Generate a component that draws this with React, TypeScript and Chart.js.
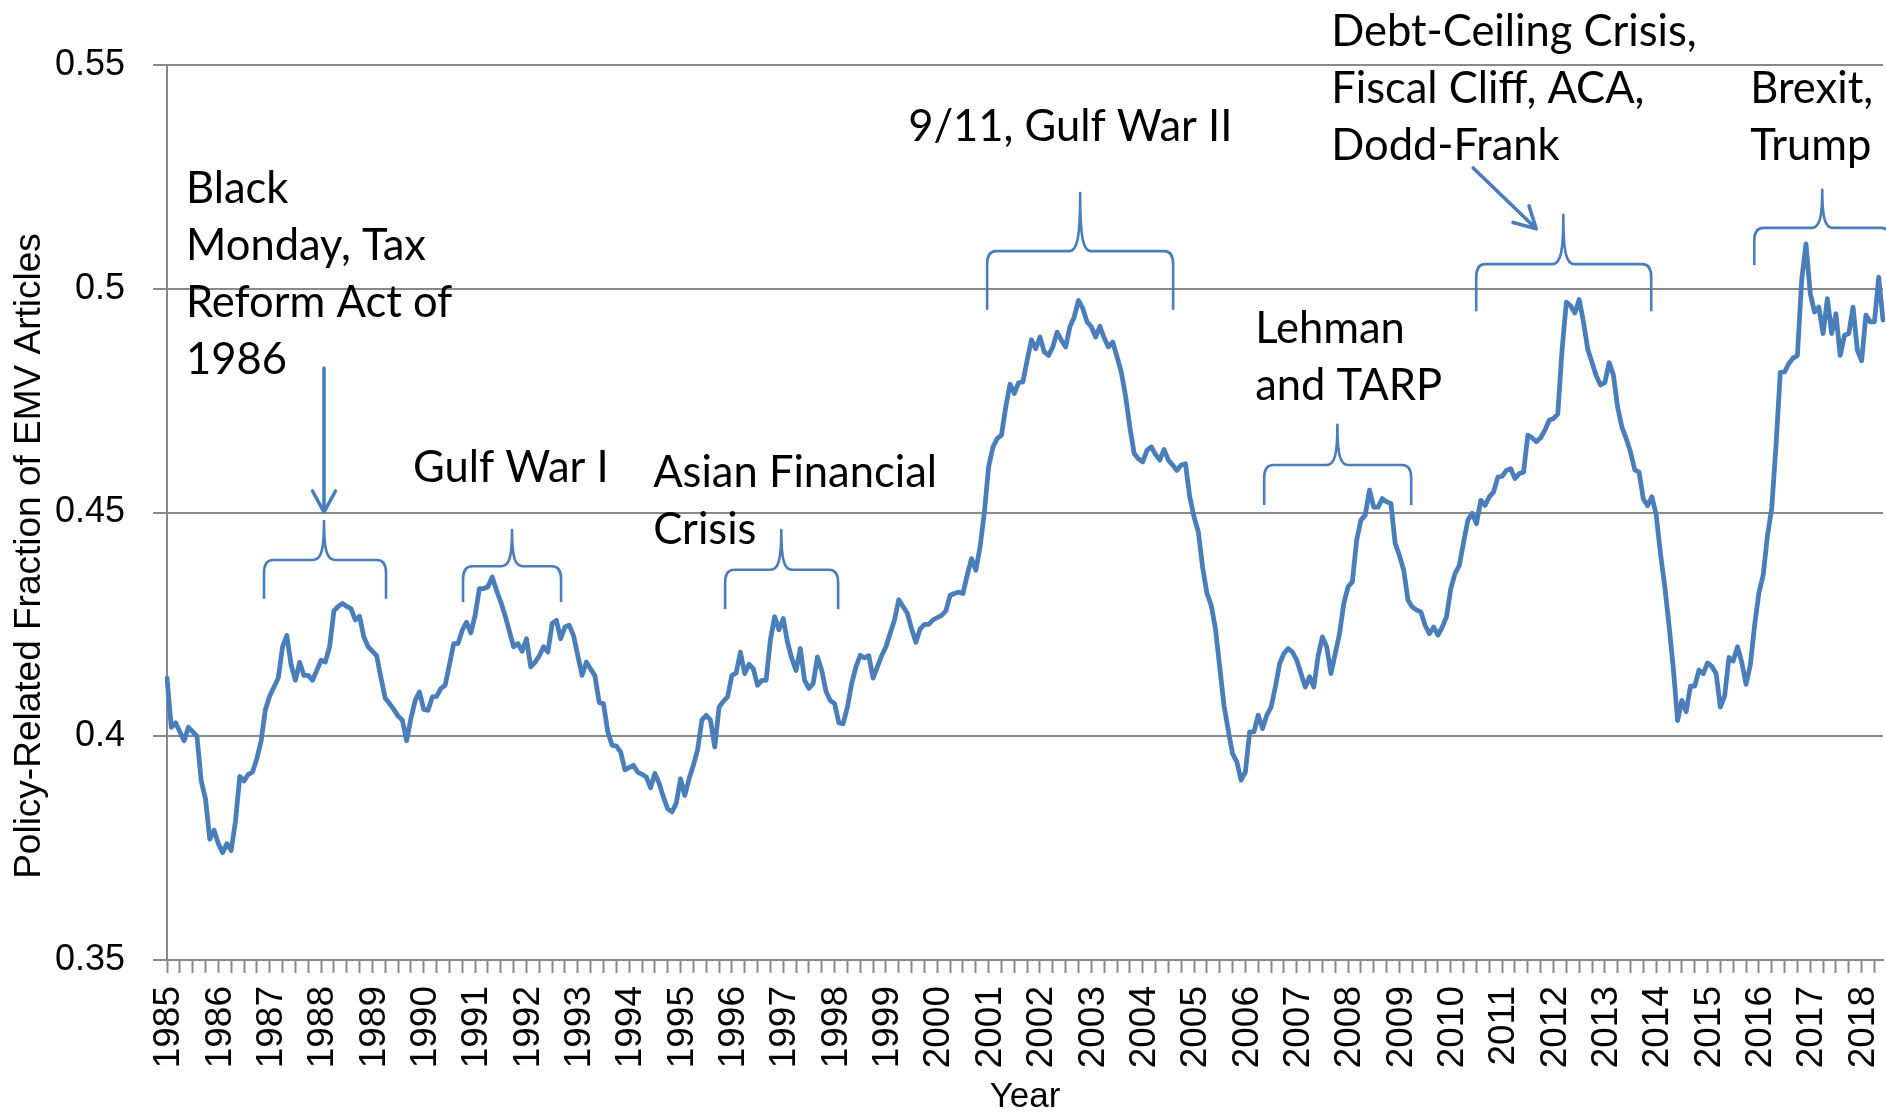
import React, { useEffect, useRef } from 'react';
import { Chart, registerables } from 'chart.js';

Chart.register(...registerables);

// ---------------- data ----------------
const yearLabels = [
  '1985', '1986', '1987', '1988', '1989', '1990', '1991', '1992', '1993', '1994',
  '1995', '1996', '1997', '1998', '1999', '2000', '2001', '2002', '2003', '2004',
  '2005', '2006', '2007', '2008', '2009', '2010', '2011', '2012', '2013', '2014',
  '2015', '2016', '2017', '2018',
];

// Monthly policy-related fraction of EMV articles, Jan 1985 - Jun 2018 (12 months per row)
const policyFraction = [
  0.413, 0.402, 0.403, 0.401, 0.399, 0.402, 0.401, 0.400, 0.390, 0.386, 0.377, 0.379,
  0.376, 0.374, 0.376, 0.3745, 0.381, 0.391, 0.390, 0.3915, 0.392, 0.395, 0.399, 0.406,
  0.409, 0.411, 0.413, 0.420, 0.4225, 0.416, 0.4125, 0.4165, 0.4136, 0.4136, 0.4125, 0.4147,
  0.417, 0.4166, 0.420, 0.428, 0.429, 0.4297, 0.429, 0.4285, 0.426, 0.4268, 0.4222, 0.420,
  0.419, 0.418, 0.413, 0.4085, 0.4073, 0.406, 0.4045, 0.4036, 0.399, 0.404, 0.408, 0.4099,
  0.406, 0.4058, 0.4088, 0.4089, 0.4107, 0.4114, 0.416, 0.4207, 0.4207, 0.4237, 0.4255, 0.4231,
  0.427, 0.433, 0.433, 0.4334, 0.4356, 0.4326, 0.430, 0.427, 0.4235, 0.420, 0.4207, 0.419,
  0.4218, 0.4155, 0.4165, 0.418, 0.420, 0.4188, 0.4252, 0.4259, 0.4218, 0.4244, 0.4248, 0.4225,
  0.418, 0.4136, 0.4166, 0.415, 0.4135, 0.4075, 0.4073, 0.401, 0.398, 0.3978, 0.3965, 0.3925,
  0.393, 0.3935, 0.392, 0.3915, 0.3909, 0.3885, 0.3917, 0.3895, 0.3864, 0.3838, 0.3831, 0.385,
  0.3905, 0.3868, 0.3905, 0.3935, 0.397, 0.4036, 0.4047, 0.4036, 0.3976, 0.4065, 0.4078, 0.4088,
  0.4136, 0.4141, 0.4188, 0.414, 0.4161, 0.4151, 0.4114, 0.4125, 0.4125, 0.4215, 0.4267, 0.4238,
  0.4263, 0.421, 0.4174, 0.4147, 0.4196, 0.4125, 0.4107, 0.4118, 0.4177, 0.4147, 0.410, 0.408,
  0.4073, 0.403, 0.4028, 0.4065, 0.4118, 0.4155, 0.4181, 0.4175, 0.418, 0.413, 0.4155, 0.418,
  0.420, 0.423, 0.426, 0.4305, 0.429, 0.4275, 0.424, 0.421, 0.424, 0.425, 0.425, 0.426,
  0.4265, 0.427, 0.428, 0.4315, 0.4319, 0.4322, 0.4319, 0.436, 0.4397, 0.4371, 0.4423, 0.450,
  0.4602, 0.4646, 0.4665, 0.4673, 0.4736, 0.4787, 0.4766, 0.479, 0.4792, 0.484, 0.4886, 0.4866,
  0.4892, 0.4859, 0.4851, 0.487, 0.4903, 0.4885, 0.487, 0.4915, 0.4937, 0.4974, 0.4956, 0.4926,
  0.4915, 0.4892, 0.4916, 0.489, 0.487, 0.4881, 0.4848, 0.4814, 0.476, 0.4691, 0.4632, 0.462,
  0.4613, 0.4639, 0.4647, 0.463, 0.4617, 0.4641, 0.4617, 0.4606, 0.4594, 0.4606, 0.4609, 0.4535,
  0.449, 0.4457, 0.4378, 0.432, 0.4293, 0.4241, 0.4155, 0.4069, 0.4013, 0.3961, 0.3943, 0.3902,
  0.392, 0.401, 0.401, 0.4047, 0.4017, 0.4047, 0.4065, 0.411, 0.4162, 0.4185, 0.4196, 0.4188,
  0.417, 0.414, 0.411, 0.4133, 0.411, 0.418, 0.4222, 0.42, 0.414, 0.4185, 0.4229, 0.4297,
  0.4334, 0.4345, 0.4438, 0.4483, 0.4494, 0.455, 0.4512, 0.4512, 0.4531, 0.4524, 0.452, 0.4431,
  0.4404, 0.4371, 0.4304, 0.4289, 0.4282, 0.4278, 0.4248, 0.4229, 0.4244, 0.4226, 0.4244, 0.4267,
  0.433, 0.4364, 0.4382, 0.4434, 0.4483, 0.4498, 0.4475, 0.4527, 0.4516, 0.4535, 0.4546, 0.4579,
  0.4581, 0.4594, 0.4598, 0.4576, 0.4587, 0.459, 0.4673, 0.4667, 0.4658, 0.4667, 0.4684, 0.4706,
  0.471, 0.472, 0.4863, 0.497, 0.4962, 0.4946, 0.4976, 0.4926, 0.4865, 0.4835, 0.4805, 0.4785,
  0.479, 0.4835, 0.4807, 0.4735, 0.469, 0.4665, 0.4635, 0.4595, 0.459, 0.453, 0.4515, 0.4535,
  0.4495, 0.4408, 0.4335, 0.4248, 0.4152, 0.4035, 0.408, 0.4055, 0.4112, 0.4112, 0.4148, 0.414,
  0.4164, 0.4156, 0.414, 0.4065, 0.409, 0.4176, 0.4168, 0.42, 0.4165, 0.4116, 0.416, 0.4248,
  0.432, 0.436, 0.4448, 0.451, 0.465, 0.4813, 0.4814, 0.4833, 0.4845, 0.4851, 0.502, 0.510,
  0.499, 0.4948, 0.4959, 0.49, 0.4978, 0.49, 0.4944, 0.4851, 0.4896, 0.49, 0.4959, 0.4863,
  0.4839, 0.4941, 0.4926, 0.4926, 0.5026, 0.493,
];

const yTicks = [0.35, 0.4, 0.45, 0.5, 0.55];

// categories: one per month, labelled with the year in January
const monthCategories = policyFraction.map((_, i) => (i % 12 === 0 ? yearLabels[i / 12] : ''));

// ---------------- annotations (data coordinates: month index, value) ----------------
type Note = { lines: string[]; x: number; y: number };
const notes: Note[] = [
  { lines: ['Black', 'Monday, Tax', 'Reform Act of', '1986'], x: 4.44, y: 0.5192 },
  { lines: ['Gulf War I'], x: 57.5, y: 0.4568 },
  { lines: ['Asian Financial', 'Crisis'], x: 113.6, y: 0.4557 },
  { lines: ['9/11, Gulf War II'], x: 173.2, y: 0.533 },
  { lines: ['Lehman', 'and TARP'], x: 254.3, y: 0.4879 },
  { lines: ['Debt-Ceiling Crisis,', 'Fiscal Cliff, ACA,', 'Dodd-Frank'], x: 272.05, y: 0.5543 },
  { lines: ['Brexit,', 'Trump'], x: 369.98, y: 0.5415 },
];

type Brace = { x0: number; x1: number; xc: number; yLine: number; yEnd: number; yTip: number };
const braces: Brace[] = [
  { x0: 22.67, x1: 51.18, xc: 36.69, yLine: 0.4394, yEnd: 0.4307, yTip: 0.4481 },
  { x0: 69.18, x1: 92.09, xc: 80.63, yLine: 0.438, yEnd: 0.43, yTip: 0.4461 },
  { x0: 130.42, x1: 156.83, xc: 143.55, yLine: 0.4372, yEnd: 0.4284, yTip: 0.4461 },
  { x0: 191.65, x1: 235.12, xc: 213.39, yLine: 0.5084, yEnd: 0.4953, yTip: 0.5214 },
  { x0: 256.39, x1: 290.75, xc: 273.5, yLine: 0.4606, yEnd: 0.4517, yTip: 0.4696 },
  { x0: 305.94, x1: 346.84, xc: 326.3, yLine: 0.5055, yEnd: 0.495, yTip: 0.5165 },
  { x0: 370.92, x1: 402.7, xc: 386.8, yLine: 0.5136, yEnd: 0.5053, yTip: 0.5221 },
];

type Arrow = { x0: number; y0: number; x1: number; y1: number };
const arrows: Arrow[] = [
  { x0: 36.69, y0: 0.4823, x1: 36.69, y1: 0.4501 },
  { x0: 305.24, y0: 0.527, x1: 319.96, y1: 0.5134 },
];

const BLUE = '#4A7EBB';
const GRAY = '#898989';
const AXIS_FONT = '"Liberation Sans", Arial, sans-serif';
const NOTE_FONT = 'Lato, "Open Sans", sans-serif';

const annotationPlugin = {
  id: 'emvAnnotations',
  afterDraw(chart: any) {
    const ctx: CanvasRenderingContext2D = chart.ctx;
    const xs = chart.scales.x;
    const ys = chart.scales.y;
    const px = (v: number) => xs.getPixelForValue(v);
    const py = (v: number) => ys.getPixelForValue(v);
    ctx.save();

    // braces
    ctx.strokeStyle = BLUE;
    ctx.lineWidth = 2.6;
    ctx.lineJoin = 'round';
    ctx.lineCap = 'butt';
    for (const b of braces) {
      const xl = px(b.x0), xr = px(b.x1), xc = px(b.xc);
      const yl = py(b.yLine), ye = py(b.yEnd), yt = py(b.yTip);
      const rx = 9, ry = 13, w = 11;
      ctx.beginPath();
      ctx.moveTo(xl, ye);
      ctx.lineTo(xl, yl + ry);
      ctx.bezierCurveTo(xl, yl + ry * 0.35, xl + rx * 0.35, yl, xl + rx, yl);
      ctx.lineTo(xc - w, yl);
      ctx.bezierCurveTo(xc - w * 0.25, yl, xc, yl - (yl - yt) * 0.25, xc, yt);
      ctx.bezierCurveTo(xc, yl - (yl - yt) * 0.25, xc + w * 0.25, yl, xc + w, yl);
      ctx.lineTo(xr - rx, yl);
      ctx.bezierCurveTo(xr - rx * 0.35, yl, xr, yl + ry * 0.35, xr, yl + ry);
      ctx.lineTo(xr, ye);
      ctx.stroke();
    }

    // arrows
    ctx.lineWidth = 3.6;
    ctx.lineCap = 'round';
    for (const a of arrows) {
      const x0 = px(a.x0), y0 = py(a.y0), x1 = px(a.x1), y1 = py(a.y1);
      const ang = Math.atan2(y1 - y0, x1 - x0);
      const head = 24, spread = 0.5;
      ctx.beginPath();
      ctx.moveTo(x0, y0);
      ctx.lineTo(x1, y1);
      ctx.moveTo(x1 - head * Math.cos(ang - spread), y1 - head * Math.sin(ang - spread));
      ctx.lineTo(x1, y1);
      ctx.lineTo(x1 - head * Math.cos(ang + spread), y1 - head * Math.sin(ang + spread));
      ctx.stroke();
    }

    // notes
    ctx.fillStyle = '#000';
    ctx.font = `43.5px ${NOTE_FONT}`;
    ctx.textAlign = 'left';
    ctx.textBaseline = 'alphabetic';
    const lineH = 57;
    for (const n of notes) {
      const x = px(n.x), y = py(n.y);
      n.lines.forEach((line, i) => ctx.fillText(line, x, y + i * lineH));
    }

    // y-axis title
    ctx.font = `37px ${AXIS_FONT}`;
    ctx.textAlign = 'center';
    ctx.translate(40, 556);
    ctx.rotate(-Math.PI / 2);
    ctx.fillText('Policy-Related Fraction of EMV Articles', 0, 0);
    ctx.restore();
  },
};

export default function App() {
  const ref = useRef<HTMLCanvasElement>(null);

  useEffect(() => {
    const canvas = ref.current;
    if (!canvas) return;
    const chart = new Chart(canvas, {
      type: 'line',
      data: {
        labels: monthCategories,
        datasets: [
          {
            data: policyFraction,
            borderColor: BLUE,
            borderWidth: 4.8,
            pointRadius: 0,
            tension: 0,
            borderJoinStyle: 'round',
            borderCapStyle: 'round',
            fill: false,
          },
        ],
      },
      options: {
        animation: false,
        responsive: false,
        devicePixelRatio: 1,
        layout: { padding: { top: 65, right: 3, left: 0, bottom: 0 } },
        plugins: {
          legend: { display: false },
          tooltip: { enabled: false },
        },
        scales: {
          x: {
            type: 'category',
            offset: false,
            afterFit: (s: any) => {
              s.height = 156;
              s.paddingLeft = 0;
              s.paddingRight = 0;
            },
            grid: {
              drawOnChartArea: false,
              drawTicks: true,
              tickLength: 13,
              tickWidth: 2,
              tickColor: (c: any) => (c.index % 3 === 0 ? GRAY : 'rgba(0,0,0,0)'),
            },
            border: { display: true, color: GRAY, width: 2 },
            ticks: {
              autoSkip: false,
              maxRotation: 90,
              minRotation: 90,
              padding: 13,
              labelOffset: 2,
              color: '#000',
              font: { family: AXIS_FONT, size: 37 },
            },
            title: {
              display: true,
              text: 'Year',
              color: '#000',
              font: { family: AXIS_FONT, size: 35, lineHeight: 1 },
              padding: { top: 0, bottom: 1 },
            },
          },
          y: {
            min: yTicks[0],
            max: yTicks[yTicks.length - 1],
            afterFit: (s: any) => {
              s.width = 167;
              s.paddingTop = 0;
              s.paddingBottom = 0;
            },
            afterBuildTicks: (s: any) => {
              s.ticks = yTicks.map((v) => ({ value: v }));
            },
            grid: {
              color: GRAY,
              lineWidth: 2,
              tickLength: 14,
              drawTicks: true,
            },
            border: { display: true, color: GRAY, width: 2 },
            ticks: {
              padding: 28,
              color: '#000',
              font: { family: AXIS_FONT, size: 36 },
              callback: (v: any) => String(Number(Number(v).toFixed(2))),
            },
          },
        },
      },
      plugins: [annotationPlugin],
    });
    return () => chart.destroy();
  }, []);

  return (
    <div style={{ position: 'fixed', left: 0, top: 0, width: 1886, height: 1116, background: '#fff' }}>
      <canvas ref={ref} width={1886} height={1116} style={{ width: 1886, height: 1116, display: 'block' }} />
    </div>
  );
}
